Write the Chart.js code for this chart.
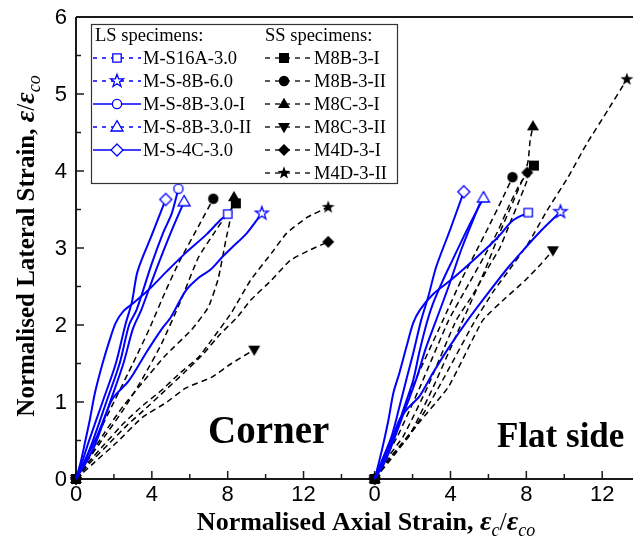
<!DOCTYPE html>
<html>
<head>
<meta charset="utf-8">
<script src="https://cdn.jsdelivr.net/npm/chart.js@4.4.1/dist/chart.umd.min.js"></script>
<style>
  html, body { margin: 0; padding: 0; background: #fff; }
</style>
</head>
<body>
<canvas id="chart" width="640" height="548"></canvas>
<script>
(function () {
    "use strict";

    // specimen names
    const lsNames = ["M-S16A-3.0", "M-S-8B-6.0", "M-S-8B-3.0-I", "M-S-8B-3.0-II", "M-S-4C-3.0"];
    const ssNames = ["M8B-3-I", "M8B-3-II", "M8C-3-I", "M8C-3-II", "M4D-3-I", "M4D-3-II"];

    // tick values
    const xTickValues = [0, 2, 4, 6, 8, 10, 12, 14];
    const yTickValues = [0, 0.5, 1, 1.5, 2, 2.5, 3, 3.5, 4, 4.5, 5, 5.5, 6];

    // Corner gauges: [axial, lateral] (normalised)
    const cornerLS = [
        [[0,0],[0.25,0.22],[0.47,0.47],[0.73,0.77],[1.0,1.12],[1.4,1.5],[1.77,1.8],[2.1,2.03],[2.5,2.18],[3.0,2.28],[3.8,2.45],[4.8,2.7],[5.8,2.94],[6.9,3.18],[7.6,3.36],[8.0,3.44]],
        [[0,0],[0.5,0.25],[1.1,0.55],[1.6,0.86],[1.95,1.05],[2.8,1.28],[3.7,1.64],[4.5,1.94],[5.0,2.1],[5.8,2.45],[6.5,2.62],[7.1,2.72],[7.7,2.88],[8.2,3.0],[9.0,3.19],[9.8,3.45]],
        [[0,0],[0.4,0.2],[0.85,0.47],[1.6,1.0],[2.3,1.5],[2.8,2.0],[3.2,2.2],[4.0,2.8],[4.6,3.2],[5.05,3.45],[5.4,3.77]],
        [[0,0],[0.5,0.2],[1.05,0.47],[1.8,1.0],[2.5,1.5],[3.0,1.95],[3.45,2.2],[4.2,2.7],[5.0,3.2],[5.7,3.6]],
        [[0,0],[0.3,0.2],[0.65,0.47],[1.4,1.0],[2.1,1.5],[2.6,2.0],[2.95,2.3],[3.25,2.7],[4.0,3.17],[4.73,3.63]]
    ];
    const cornerSS = [
        [[0,0],[0.5,0.2],[1.5,0.55],[2.5,0.9],[3.5,1.3],[4.5,1.75],[5.5,2.3],[6.46,2.88],[7.3,3.2],[8.0,3.45],[8.43,3.58]],
        [[0,0],[0.5,0.25],[1.2,0.6],[2.0,1.0],[3.0,1.5],[3.85,1.94],[4.74,2.45],[5.42,2.81],[6.5,3.3],[7.24,3.64]],
        [[0,0],[0.6,0.25],[1.5,0.6],[2.5,0.95],[3.5,1.25],[4.7,1.6],[6.1,1.94],[6.98,2.23],[7.5,2.6],[7.9,3.1],[8.2,3.45],[8.33,3.66]],
        [[0,0],[0.9,0.2],[2.13,0.47],[3.5,0.8],[4.74,0.99],[5.78,1.18],[7.14,1.32],[8.2,1.5],[9.4,1.68]],
        [[0,0],[0.7,0.2],[1.7,0.45],[2.7,0.7],[3.7,0.92],[4.7,1.15],[5.7,1.38],[6.7,1.62],[7.6,1.88],[8.5,2.1],[9.2,2.32],[10.3,2.58],[11.3,2.84],[12.3,2.97],[13.3,3.08]],
        [[0,0],[0.6,0.2],[1.5,0.45],[2.5,0.72],[3.5,0.95],[4.5,1.15],[5.5,1.38],[6.46,1.58],[7.14,1.8],[8.2,2.16],[9.2,2.58],[10.3,2.93],[11.1,3.19],[12.2,3.4],[13.3,3.53]]
    ];

    // Flat side gauges
    const flatLS = [
        [[0,0],[0.26,0.25],[0.47,0.47],[0.73,0.77],[0.99,1.12],[1.31,1.38],[1.67,1.71],[2.04,2.03],[2.4,2.2],[3.08,2.4],[4.0,2.58],[4.8,2.75],[5.7,2.95],[6.5,3.14],[7.3,3.36],[8.1,3.46]],
        [[0,0],[0.4,0.2],[0.78,0.42],[1.31,0.77],[1.83,0.94],[2.35,1.07],[3.08,1.38],[3.92,1.71],[4.9,2.06],[6.0,2.42],[7.05,2.75],[7.94,3.0],[8.8,3.23],[9.8,3.47]],
        [[0,0],[0.5,0.2],[1.0,0.5],[1.6,0.9],[2.2,1.3],[2.7,1.7],[3.24,2.06],[3.9,2.5],[4.6,3.0],[5.55,3.58]],
        [[0,0],[0.3,0.15],[0.63,0.34],[1.15,0.64],[1.57,0.94],[2.04,1.29],[2.35,1.64],[2.75,2.03],[3.08,2.28],[3.6,2.58],[4.1,2.84],[5.0,3.3],[5.74,3.65]],
        [[0,0],[0.4,0.25],[0.89,0.55],[1.31,0.94],[1.67,1.29],[2.04,1.64],[2.45,2.06],[2.82,2.36],[3.24,2.75],[4.0,3.25],[4.7,3.73]]
    ];
    const flatSS = [
        [[0,0],[0.6,0.25],[1.5,0.55],[2.8,1.2],[4.3,2.06],[5.2,2.4],[6.0,2.75],[6.6,3.0],[7.1,3.3],[7.6,3.6],[8.0,3.85],[8.4,4.07]],
        [[0,0],[0.4,0.25],[1.0,0.55],[2.0,1.2],[3.6,2.06],[4.6,2.6],[5.3,2.93],[6.0,3.27],[6.7,3.62],[7.27,3.92]],
        [[0,0],[0.7,0.25],[1.8,0.55],[3.1,1.2],[4.65,2.06],[5.8,2.7],[6.6,3.2],[7.3,3.6],[7.9,3.95],[8.1,4.14],[8.2,4.4],[8.35,4.58]],
        [[0,0],[1.0,0.3],[2.3,0.72],[3.9,1.2],[5.7,2.06],[6.9,2.35],[7.94,2.58],[8.8,2.8],[9.4,2.97]],
        [[0,0],[0.5,0.25],[1.2,0.55],[2.4,1.2],[3.9,2.06],[5.0,2.55],[5.8,2.9],[6.5,3.22],[7.05,3.53],[7.57,3.79],[8.05,3.98]],
        [[0,0],[0.9,0.3],[2.2,0.7],[3.4,1.2],[5.3,2.06],[6.3,2.45],[7.05,2.7],[8.1,3.06],[9.1,3.49],[10.2,3.92],[11.2,4.36],[12.3,4.79],[13.3,5.19]]
    ];

    // styles
    const BLUE = "#0000ff";
    const BLACK = "#000000";
    const FLAT_OFFSET = 15.75; // the flat side panel starts here on the shared x scale
    const X_MAX = 29.375;
    const lsShapes = ["square", "star", "circle", "triangle", "diamond"];
    const lsLegendDashed = [true, true, false, true, false];
    const ssShapes = ["square", "circle", "triangle", "triangleDown", "diamond", "star"];
    const flatLSEndMarker = [true, true, false, true, true];

    // marker images (shared by plot and legend)
    function makeMarker(shape, color, filled) {
        const size = 18, m = size / 2;
        const c = document.createElement("canvas");
        c.width = size; c.height = size;
        const g = c.getContext("2d");
        g.beginPath();
        if (shape === "square") {
            const s = filled ? 5 : 4.2;
            g.rect(m - s, m - s, 2 * s, 2 * s);
        } else if (shape === "circle") {
            g.arc(m, m, filled ? 5.2 : 4.6, 0, Math.PI * 2);
        } else if (shape === "triangle") {
            g.moveTo(m, m - 6.3); g.lineTo(m + 6, m + 4); g.lineTo(m - 6, m + 4); g.closePath();
        } else if (shape === "triangleDown") {
            g.moveTo(m, m + 6.3); g.lineTo(m + 6, m - 4); g.lineTo(m - 6, m - 4); g.closePath();
        } else if (shape === "diamond") {
            g.moveTo(m, m - 6); g.lineTo(m + 6, m); g.lineTo(m, m + 6); g.lineTo(m - 6, m); g.closePath();
        } else if (shape === "star") {
            for (let i = 0; i < 10; i++) {
                const r = i % 2 ? 2.7 : 6.8;
                const a = -Math.PI / 2 + i * Math.PI / 5;
                g.lineTo(m + r * Math.cos(a), m + r * Math.sin(a));
            }
            g.closePath();
        }
        if (filled) {
            g.fillStyle = color; g.fill();
        } else {
            g.fillStyle = "#fff"; g.fill();
            g.strokeStyle = color; g.lineWidth = 1.3; g.stroke();
        }
        return c;
    }

    const lsMarkers = lsShapes.map(s => makeMarker(s, BLUE, false));
    const ssMarkers = ssShapes.map(s => makeMarker(s, BLACK, true));

    function seriesDataset(points, label, marker, isLS, offset, showStart, showEnd) {
        const last = points.length - 1;
        return {
            label: label,
            data: points.map(p => ({ x: p[0] + offset, y: p[1] })),
            borderColor: isLS ? BLUE : BLACK,
            borderWidth: isLS ? 2 : 1.5,
            borderDash: isLS ? [] : [6, 4],
            tension: isLS ? 0.3 : 0.15,
            fill: false,
            clip: false,
            pointStyle: marker,
            pointRadius: ctx => ((ctx.dataIndex === 0 && showStart) || (ctx.dataIndex === last && showEnd)) ? 5 : 0,
            pointHoverRadius: 0
        };
    }

    const datasets = [];
    cornerLS.forEach((pts, i) => datasets.push(seriesDataset(pts, lsNames[i], lsMarkers[i], true, 0, false, true)));
    flatLS.forEach((pts, i) => datasets.push(seriesDataset(pts, lsNames[i], lsMarkers[i], true, FLAT_OFFSET, false, flatLSEndMarker[i])));
    cornerSS.forEach((pts, i) => datasets.push(seriesDataset(pts, ssNames[i], ssMarkers[i], false, 0, true, true)));
    flatSS.forEach((pts, i) => datasets.push(seriesDataset(pts, ssNames[i], ssMarkers[i], false, FLAT_OFFSET, true, true)));

    const SANS = '"Liberation Sans", Arial, sans-serif';
    const SERIF = '"Liberation Serif", "Times New Roman", serif';

    // text made of pieces (for the epsilon subscripts)
    function drawPieces(ctx, pieces, cx, y) {
        let w = 0;
        pieces.forEach(p => { ctx.font = p.font; p.w = ctx.measureText(p.t).width; w += p.w; });
        let x = cx - w / 2;
        ctx.textAlign = "left";
        ctx.textBaseline = "alphabetic";
        pieces.forEach(p => {
            ctx.font = p.font;
            ctx.fillText(p.t, x, y + (p.dy || 0));
            x += p.w;
        });
    }

    // axes, ticks and labels
    const axesPlugin = {
        id: "axesPlugin",
        beforeDatasetsDraw(chart) {
            const ctx = chart.ctx, a = chart.chartArea;
            const xs = chart.scales.x, ys = chart.scales.y;
            ctx.save();
            ctx.strokeStyle = "#1a1a1a";
            ctx.lineWidth = 2;
            ctx.beginPath();
            ctx.moveTo(a.left, a.top); ctx.lineTo(a.right, a.top);
            ctx.moveTo(a.left, a.top); ctx.lineTo(a.left, a.bottom); ctx.lineTo(a.right, a.bottom);
            ctx.stroke();

            ctx.lineWidth = 1.5;
            ctx.fillStyle = "#000";
            ctx.font = "22px " + SANS;
            // x ticks, both panels
            [0, FLAT_OFFSET].forEach(off => {
                xTickValues.forEach(v => {
                    const val = off + v;
                    if (val > X_MAX) return;
                    const px = xs.getPixelForValue(val);
                    const major = v % 4 === 0;
                    ctx.beginPath();
                    ctx.moveTo(px, a.bottom);
                    ctx.lineTo(px, a.bottom - (major ? 8 : 5));
                    ctx.stroke();
                    if (major) {
                        ctx.textAlign = "center";
                        ctx.textBaseline = "top";
                        ctx.fillText(String(v), px, a.bottom + 5);
                    }
                });
            });
            // y ticks
            yTickValues.forEach(v => {
                const py = ys.getPixelForValue(v);
                const major = Number.isInteger(v);
                ctx.beginPath();
                ctx.moveTo(a.left, py);
                ctx.lineTo(a.left + (major ? 8 : 5), py);
                ctx.stroke();
                if (major) {
                    ctx.textAlign = "right";
                    ctx.textBaseline = "middle";
                    ctx.fillText(String(v), a.left - 9, py + 1);
                }
            });
            ctx.restore();
        },
        afterDraw(chart) {
            const ctx = chart.ctx;
            ctx.save();
            ctx.fillStyle = "#000";

            // axis titles
            drawPieces(ctx, [
                { t: "Normalised Axial Strain, ", font: "bold 26px " + SERIF },
                { t: "\u03b5", font: "italic bold 28px " + SERIF },
                { t: "c", font: "italic 18px " + SERIF, dy: 6 },
                { t: "/", font: "26px " + SERIF },
                { t: "\u03b5", font: "italic bold 28px " + SERIF },
                { t: "co", font: "italic 18px " + SERIF, dy: 6 }
            ], 366, 530);

            ctx.save();
            ctx.translate(34, 246);
            ctx.rotate(-Math.PI / 2);
            drawPieces(ctx, [
                { t: "Normalised Lateral Strain, ", font: "bold 25px " + SERIF },
                { t: "\u03b5", font: "italic bold 28px " + SERIF },
                { t: "/", font: "25px " + SERIF },
                { t: "\u03b5", font: "italic bold 28px " + SERIF },
                { t: "co", font: "italic 18px " + SERIF, dy: 6 }
            ], 0, 0);
            ctx.restore();

            // panel names
            ctx.textAlign = "left";
            ctx.textBaseline = "alphabetic";
            ctx.font = "bold 39px " + SERIF;
            ctx.fillText("Corner", 208, 443);
            ctx.font = "bold 35px " + SERIF;
            ctx.fillText("Flat side", 497, 447);

            // legend box
            ctx.fillStyle = "#fff";
            ctx.fillRect(91, 24, 306, 159);
            ctx.strokeStyle = "#333";
            ctx.lineWidth = 1.2;
            ctx.strokeRect(91.5, 24.5, 306, 159);

            ctx.fillStyle = "#000";
            ctx.font = "18.5px " + SERIF;
            ctx.fillText("LS specimens:", 95, 41);
            ctx.fillText("SS specimens:", 265, 41);

            const rowY = i => 58 + i * 23;
            ctx.textBaseline = "middle";
            lsNames.forEach((name, i) => {
                const y = rowY(i);
                ctx.strokeStyle = BLUE;
                ctx.lineWidth = 1.5;
                ctx.setLineDash(lsLegendDashed[i] ? [4, 5] : []);
                ctx.beginPath();
                ctx.moveTo(93, y); ctx.lineTo(141, y);
                ctx.stroke();
                ctx.setLineDash([]);
                const mk = lsMarkers[i];
                ctx.drawImage(mk, 117 - mk.width / 2, y - mk.height / 2);
                ctx.fillStyle = "#000";
                ctx.fillText(name, 143, y + 1);
            });
            ssNames.forEach((name, i) => {
                const y = rowY(i);
                ctx.strokeStyle = BLACK;
                ctx.lineWidth = 1.3;
                ctx.setLineDash([5, 5]);
                ctx.beginPath();
                ctx.moveTo(265, y); ctx.lineTo(311, y);
                ctx.stroke();
                ctx.setLineDash([]);
                const mk = ssMarkers[i];
                ctx.drawImage(mk, 284 - mk.width / 2, y - mk.height / 2);
                ctx.fillStyle = "#000";
                ctx.fillText(name, 314, y + 1);
            });
            ctx.restore();
        }
    };

    new Chart(document.getElementById("chart").getContext("2d"), {
        type: "line",
        data: { datasets: datasets },
        options: {
            responsive: false,
            animation: false,
            events: [],
            layout: { padding: { left: 76, top: 17, right: 0, bottom: 69 } },
            scales: {
                x: { type: "linear", min: 0, max: X_MAX, display: false },
                y: { type: "linear", min: 0, max: 6, display: false }
            },
            plugins: { legend: { display: false }, tooltip: { enabled: false } }
        },
        plugins: [axesPlugin]
    });
})();
</script>
</body>
</html>
